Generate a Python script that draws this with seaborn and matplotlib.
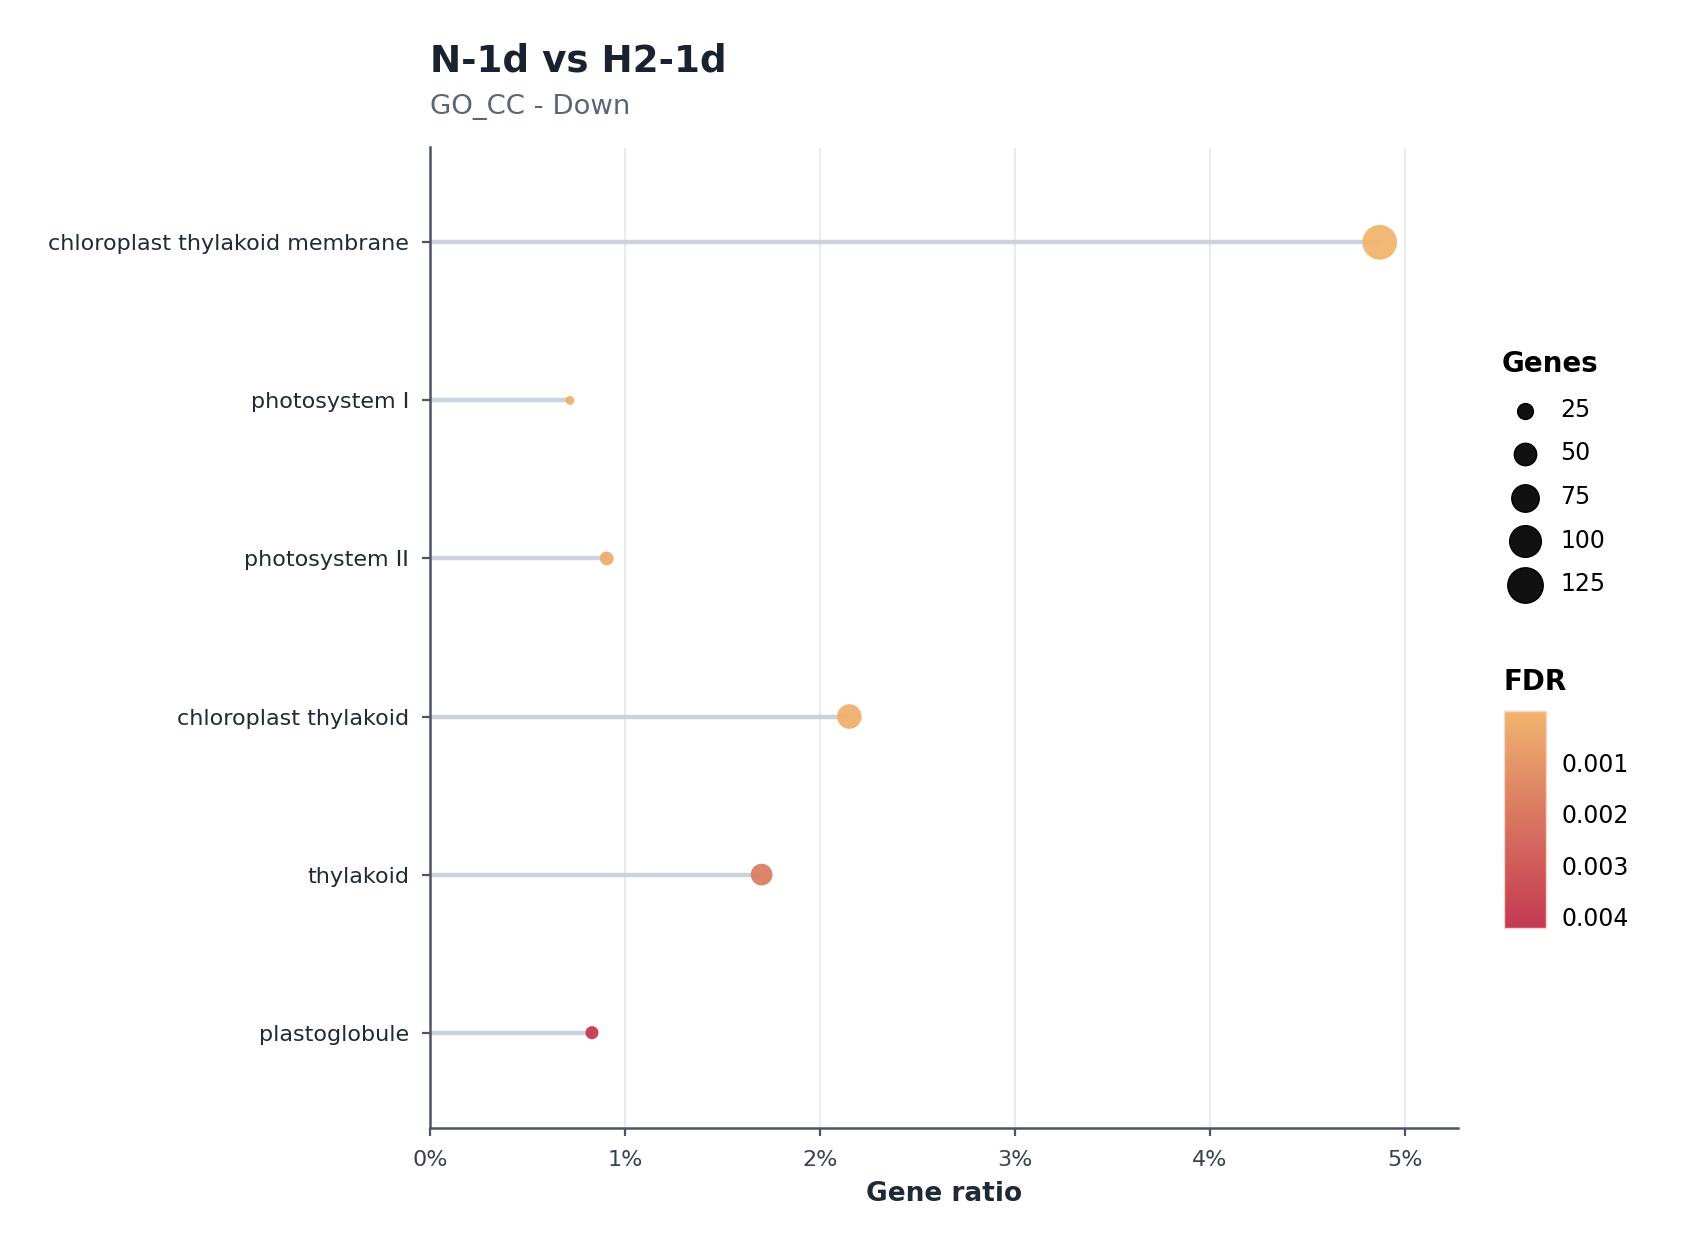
import numpy as np
import pandas as pd
import matplotlib
matplotlib.use("Agg")
import matplotlib.pyplot as plt
import seaborn as sns
from matplotlib.colors import LinearSegmentedColormap, Normalize
from matplotlib.ticker import PercentFormatter

# Data
terms = ["chloroplast thylakoid membrane", "photosystem I", "photosystem II",
         "chloroplast thylakoid", "thylakoid", "plastoglobule"]
gene_ratio = [0.0487, 0.00717, 0.00906, 0.0215, 0.0170, 0.0083]
genes = [120, 8, 19, 60, 47, 17]
fdr = [0.00002, 0.00005, 0.0003, 0.00015, 0.0018, 0.0042]

legend_genes = [25, 50, 75, 100, 125]
fdr_ticks = [0.001, 0.002, 0.003, 0.004]

df = pd.DataFrame({"Term": terms, "GeneRatio": gene_ratio, "Genes": genes, "FDR": fdr})

sns.set_theme(style="white")
plt.rcParams["font.family"] = ["DejaVu Sans"]
plt.rcParams["text.color"] = "black"

cmap = LinearSegmentedColormap.from_list("fdr", ["#F2B46E", "#E08A66", "#D2605B", "#C33A53"])
norm = Normalize(vmin=0.00001, vmax=0.00421)
k = 1.3  # marker area per gene

fig = plt.figure(figsize=(8.5, 6.25), dpi=200)
ax = fig.add_axes([0.253, 0.098, 0.6045, 0.784])

ax.hlines(y=np.arange(len(terms)), xmin=0, xmax=df["GeneRatio"], color="#CBD2DC", lw=1.6, zorder=1)
sns.scatterplot(data=df, x="GeneRatio", y="Term", hue="FDR", palette=cmap, hue_norm=norm,
                size="Genes", sizes=(0, k * 125), size_norm=(0, 125),
                linewidth=0, alpha=0.95, legend=False, ax=ax, zorder=3)

ax.set_xlim(0, 0.0527)
ax.set_ylim(len(terms) - 0.4, -0.6)
ax.xaxis.set_major_formatter(PercentFormatter(1.0, decimals=0))
ax.set_xticks([0, 0.01, 0.02, 0.03, 0.04, 0.05])
ax.grid(axis="x", color="#E8EBEF", lw=0.7)
ax.set_axisbelow(True)
for s in ["top", "right"]:
    ax.spines[s].set_visible(False)
for s in ["left", "bottom"]:
    ax.spines[s].set_color("#4B5563")
    ax.spines[s].set_linewidth(0.9)
ax.tick_params(axis="both", length=3, width=0.8, color="#4B5563", left=True, bottom=True)
ax.tick_params(axis="y", labelsize=8, labelcolor="#1F2937", pad=4.6)
ax.tick_params(axis="x", labelsize=8, labelcolor="#374151", pad=5)
ax.set_ylabel("")
ax.set_xlabel("Gene ratio", fontsize=9.5, fontweight="bold", color="#1F2937", labelpad=4)

fig.text(0.253, 0.951, "N-1d vs H2-1d", fontsize=13.4, fontweight="bold", color="#1A2230", va="center")
fig.text(0.253, 0.914, "GO_CC - Down", fontsize=9.9, color="#5B6577", va="center")

# Genes size legend
handles = [ax.scatter([], [], s=k * g, color="#111111", edgecolor="#000000", linewidth=0.5)
           for g in legend_genes]
leg = fig.legend(handles, [str(g) for g in legend_genes], title="Genes",
                 loc="upper left", bbox_to_anchor=(0.8735, 0.733), frameon=False,
                 fontsize=8.5, title_fontproperties={"weight": "bold", "size": 10},
                 labelspacing=0.83, handletextpad=0.5, borderpad=0.2)
leg._legend_box.align = "left"

# FDR colorbar
fig.text(0.8845, 0.454, "FDR", fontsize=10, fontweight="bold", va="center")
cax = fig.add_axes([0.8845, 0.258, 0.025, 0.173])
sm = plt.cm.ScalarMappable(cmap=cmap, norm=norm)
cb = fig.colorbar(sm, cax=cax, ticks=fdr_ticks)
cb.ax.invert_yaxis()
cb.outline.set_edgecolor("#F5D6C8")
cb.outline.set_linewidth(0.5)
cb.ax.tick_params(labelsize=8.5, length=3.5, color="white", width=0.6, direction="in", pad=5.6,
                  left=True, right=True, labelcolor="black")
cb.ax.set_yticklabels([f"{t:.3f}" for t in fdr_ticks])

fig.savefig("out.png", dpi=200, facecolor="white")
